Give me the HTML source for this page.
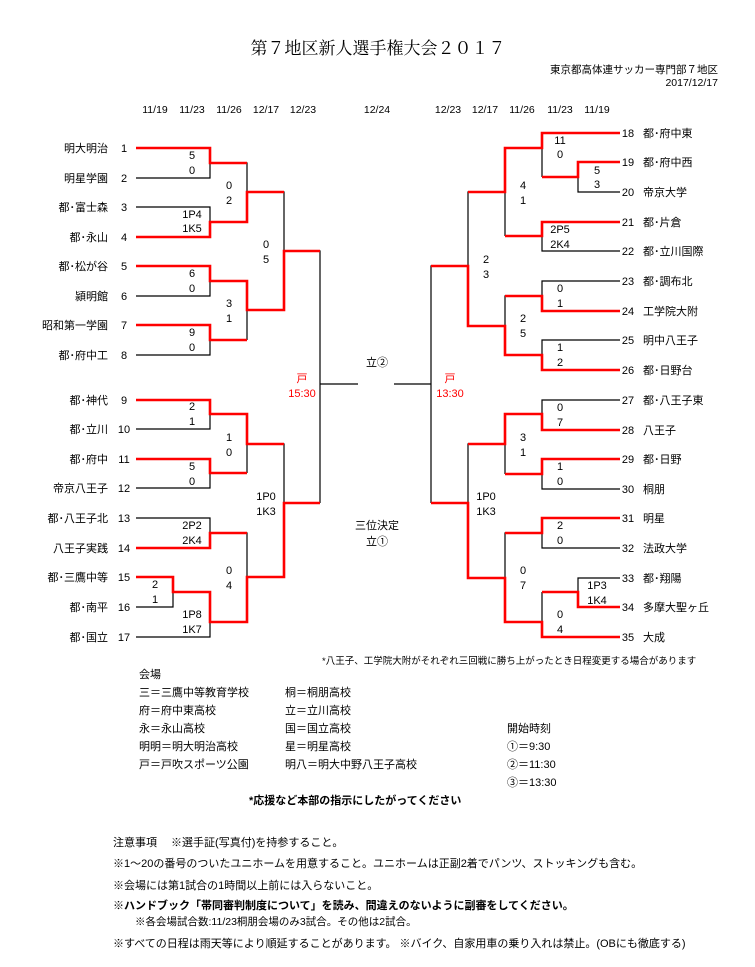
<!DOCTYPE html>
<html><head><meta charset="utf-8"><style>
html,body{margin:0;padding:0;background:#fff;}
svg{display:block}
text{font-family:"Liberation Sans","Noto Sans CJK JP",sans-serif;fill:#000;}
.n{font-size:11px;}
.s{font-size:10.5px;}
.m{font-family:"Liberation Serif","Noto Serif CJK SC",serif;font-size:11px;}
text.r{fill:#f00;}
</style></head><body>
<svg width="755" height="967" viewBox="0 0 755 967" xmlns="http://www.w3.org/2000/svg">
<text x="378" y="54" font-size="17" text-anchor="middle" style="font-family:'Liberation Serif','Noto Serif CJK SC',serif">第７地区新人選手権大会２０１７</text>
<text x="718" y="73" class="s" text-anchor="end">東京都高体連サッカー専門部７地区</text>
<text x="718" y="86" class="s" text-anchor="end">2017/12/17</text>
<g class="s" text-anchor="middle">
<text x="155" y="113">11/19</text><text x="192" y="113">11/23</text><text x="229" y="113">11/26</text><text x="266" y="113">12/17</text><text x="303" y="113">12/23</text>
<text x="377" y="113">12/24</text>
<text x="448" y="113">12/23</text><text x="485" y="113">12/17</text><text x="522" y="113">11/26</text><text x="560" y="113">11/23</text><text x="597" y="113">11/19</text>
</g>
<g class="n" text-anchor="end">
<text x="108" y="152">明大明治</text><text x="108" y="182">明星学園</text><text x="108" y="211">都･富士森</text><text x="108" y="241">都･永山</text>
<text x="108" y="270">都･松が谷</text><text x="108" y="300">潁明館</text><text x="108" y="329">昭和第一学園</text><text x="108" y="359">都･府中工</text>
<text x="108" y="404">都･神代</text><text x="108" y="433">都･立川</text><text x="108" y="463">都･府中</text><text x="108" y="492">帝京八王子</text>
<text x="108" y="522">都･八王子北</text><text x="108" y="552">八王子実践</text><text x="108" y="581">都･三鷹中等</text><text x="108" y="611">都･南平</text><text x="108" y="641">都･国立</text>
</g>
<g class="n" text-anchor="middle">
<text x="124" y="152">1</text><text x="124" y="182">2</text><text x="124" y="211">3</text><text x="124" y="241">4</text><text x="124" y="270">5</text><text x="124" y="300">6</text><text x="124" y="329">7</text><text x="124" y="359">8</text>
<text x="124" y="404">9</text><text x="124" y="433">10</text><text x="124" y="463">11</text><text x="124" y="492">12</text><text x="124" y="522">13</text><text x="124" y="552">14</text><text x="124" y="581">15</text><text x="124" y="611">16</text><text x="124" y="641">17</text>
</g>
<g class="n" text-anchor="middle">
<text x="628" y="137">18</text><text x="628" y="166">19</text><text x="628" y="196">20</text><text x="628" y="226">21</text><text x="628" y="255">22</text><text x="628" y="285">23</text><text x="628" y="315">24</text><text x="628" y="344">25</text><text x="628" y="374">26</text>
<text x="628" y="404">27</text><text x="628" y="434">28</text><text x="628" y="463">29</text><text x="628" y="493">30</text><text x="628" y="522">31</text><text x="628" y="552">32</text><text x="628" y="582">33</text><text x="628" y="611">34</text><text x="628" y="641">35</text>
</g>
<g class="n">
<text x="643" y="137">都･府中東</text><text x="643" y="166">都･府中西</text><text x="643" y="196">帝京大学</text><text x="643" y="226">都･片倉</text><text x="643" y="255">都･立川国際</text><text x="643" y="285">都･調布北</text><text x="643" y="315">工学院大附</text><text x="643" y="344">明中八王子</text><text x="643" y="374">都･日野台</text>
<text x="643" y="404">都･八王子東</text><text x="643" y="434">八王子</text><text x="643" y="463">都･日野</text><text x="643" y="493">桐朋</text><text x="643" y="522">明星</text><text x="643" y="552">法政大学</text><text x="643" y="582">都･翔陽</text><text x="643" y="611">多摩大聖ヶ丘</text><text x="643" y="641">大成</text>
</g>
<g stroke="#000" stroke-width="1.2" fill="none">
<path d="M136 178H210V148 M136 207H210V237 M136 296H210V266 M136 355H210V325 M210 163H247V222 M210 281H247V340 M247 192H284V310 M284 251H320V503 M320 384H358"/>
<path d="M136 429H210V400 M136 488H210V459 M136 518H210V548 M136 607H173V577 M136 637H210V592 M210 414H247V473 M210 533H247V622 M247 444H284V577"/>
<path d="M620 192H578V162 M542 133V177 M620 251H542V222 M542 148H505V236 M505 192H468V326 M620 281H542V311 M620 340H542V370 M542 296H505V355 M468 266H431V503 M431 384H394"/>
<path d="M620 400H542V430 M620 489H542V459 M542 414H505V474 M620 548H542V518 M620 578H578V607 M542 592V637 M542 533H505V622 M505 444H468V578"/>
</g>
<g stroke="#f00" stroke-width="2.6" fill="none" stroke-linejoin="miter">
<path d="M136 148H210V163H247 M136 237H210V222H247V192H284 M136 266H210V281H247V310H284V251H320 M136 325H210V340H247"/>
<path d="M136 400H210V414H247V444H284 M136 459H210V473H247 M136 548H210V533H247 M136 577H173V592H210V622H247V577H284V503H320"/>
<path d="M620 133H542V148H505V192H468 M620 162H578V177H542 M620 222H542V236H505 M620 311H542V296H505 M620 370H542V355H505V326H468V266H431"/>
<path d="M620 430H542V414H505V444H468 M620 459H542V474H505 M620 518H542V533H505 M620 607H578V592H542 M620 637H542V622H505V578H468V503H431"/>
</g>
<g class="n" text-anchor="middle">
<text x="192" y="159">5</text><text x="192" y="174">0</text>
<text x="192" y="218">1P4</text><text x="192" y="232">1K5</text>
<text x="192" y="277">6</text><text x="192" y="292">0</text>
<text x="192" y="336">9</text><text x="192" y="351">0</text>
<text x="229" y="189">0</text><text x="229" y="204">2</text>
<text x="229" y="307">3</text><text x="229" y="322">1</text>
<text x="266" y="248">0</text><text x="266" y="263">5</text>
<text x="192" y="410">2</text><text x="192" y="425">1</text>
<text x="192" y="470">5</text><text x="192" y="485">0</text>
<text x="192" y="529">2P2</text><text x="192" y="544">2K4</text>
<text x="155" y="588">2</text><text x="155" y="603">1</text>
<text x="192" y="618">1P8</text><text x="192" y="633">1K7</text>
<text x="229" y="441">1</text><text x="229" y="456">0</text>
<text x="229" y="574">0</text><text x="229" y="589">4</text>
<text x="266" y="500">1P0</text><text x="266" y="515">1K3</text>
<text x="560" y="144">11</text><text x="560" y="158">0</text>
<text x="597" y="174">5</text><text x="597" y="188">3</text>
<text x="560" y="233">2P5</text><text x="560" y="248">2K4</text>
<text x="560" y="292">0</text><text x="560" y="307">1</text>
<text x="560" y="351">1</text><text x="560" y="366">2</text>
<text x="523" y="189">4</text><text x="523" y="204">1</text>
<text x="523" y="322">2</text><text x="523" y="337">5</text>
<text x="486" y="263">2</text><text x="486" y="278">3</text>
<text x="560" y="411">0</text><text x="560" y="426">7</text>
<text x="560" y="470">1</text><text x="560" y="485">0</text>
<text x="560" y="529">2</text><text x="560" y="544">0</text>
<text x="597" y="589">1P3</text><text x="597" y="604">1K4</text>
<text x="560" y="618">0</text><text x="560" y="633">4</text>
<text x="523" y="441">3</text><text x="523" y="456">1</text>
<text x="523" y="574">0</text><text x="523" y="589">7</text>
<text x="486" y="500">1P0</text><text x="486" y="515">1K3</text>
</g>
<g class="n" text-anchor="middle">
<text class="r" x="302" y="382" style="fill:#f00">戸</text><text class="r" x="302" y="397" style="fill:#f00">15:30</text>
<text class="r" x="450" y="382" style="fill:#f00">戸</text><text class="r" x="450" y="397" style="fill:#f00">13:30</text>
</g>
<g class="n" text-anchor="middle">
<text x="377" y="366">立②</text>
<text x="377" y="529">三位決定</text><text x="377" y="545">立①</text>
</g>
<text x="322" y="664" font-size="9.5">*八王子、工学院大附がそれぞれ三回戦に勝ち上がったとき日程変更する場合があります</text>
<g class="n">
<text x="139" y="678">会場</text>
<text x="139" y="696">三＝三鷹中等教育学校</text><text x="285" y="696">桐＝桐朋高校</text>
<text x="139" y="714">府＝府中東高校</text><text x="285" y="714">立＝立川高校</text>
<text x="139" y="732">永＝永山高校</text><text x="285" y="732">国＝国立高校</text><text x="507" y="732">開始時刻</text>
<text x="139" y="750">明明＝明大明治高校</text><text x="285" y="750">星＝明星高校</text><text x="507" y="750">①＝9:30</text>
<text x="139" y="768">戸＝戸吹スポーツ公園</text><text x="285" y="768">明八＝明大中野八王子高校</text><text x="507" y="768">②＝11:30</text>
<text x="507" y="786">③＝13:30</text>
<text x="249" y="804" font-weight="bold">*応援など本部の指示にしたがってください</text>
</g>
<g class="m">
<text x="113" y="846">注意事項　 ※選手証(写真付)を持参すること。</text>
<text x="113" y="867">※1～20の番号のついたユニホームを用意すること。ユニホームは正副2着でパンツ、ストッキングも含む。</text>
<text x="113" y="889">※会場には第1試合の1時間以上前には入らないこと。</text>
<text x="113" y="909" font-weight="bold" style="font-family:'Liberation Sans','Noto Sans CJK JP',sans-serif">※ハンドブック「帯同審判制度について」を読み、間違えのないように副審をしてください。</text>
<text x="135" y="925" font-size="10.5">※各会場試合数:11/23桐朋会場のみ3試合。その他は2試合。</text>
<text x="113" y="947">※すべての日程は雨天等により順延することがあります。 ※バイク、自家用車の乗り入れは禁止。(OBにも徹底する)</text>
</g>
</svg>
</body></html>
